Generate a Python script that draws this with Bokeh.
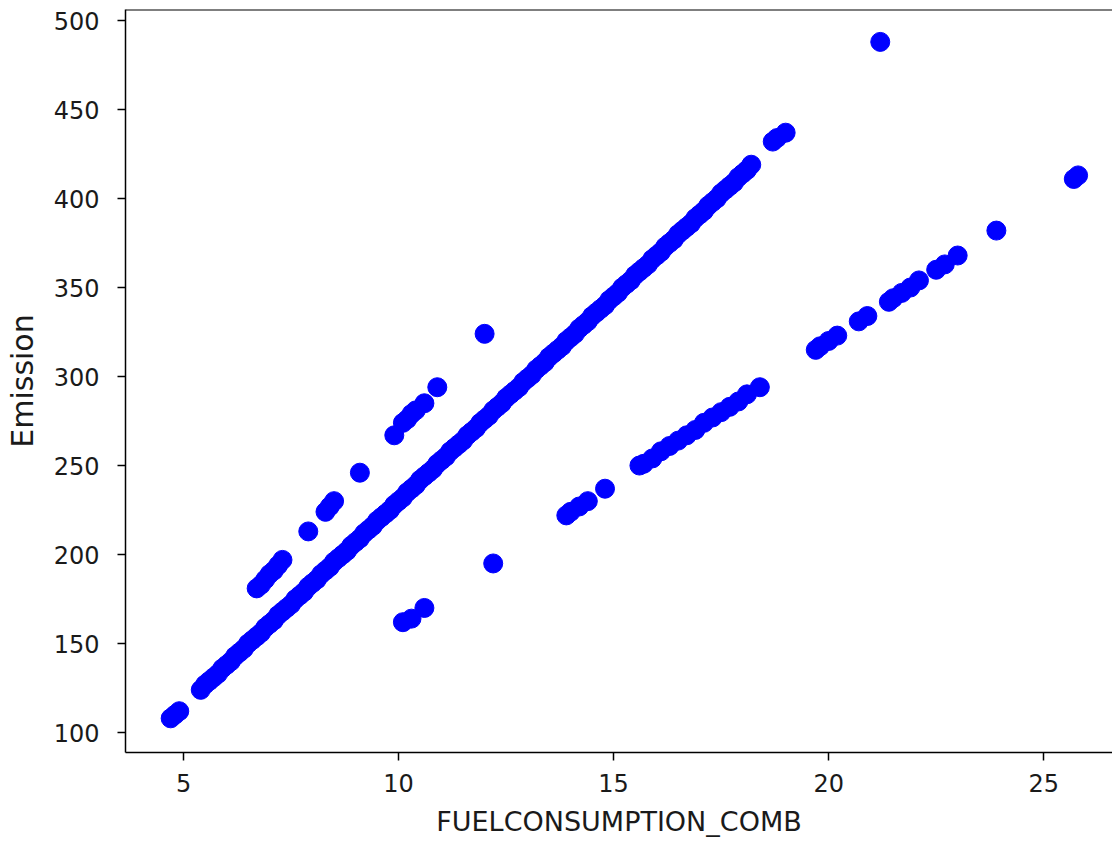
from bokeh.plotting import figure
from bokeh.models import Range1d, Span, FixedTicker
from bokeh.embed import file_html
from bokeh.resources import INLINE

# ---- data ----
fc_gasoline = [4.7, 4.8, 4.9,
               5.4, 5.5, 5.6, 5.7, 5.8, 5.9, 6.0, 6.1, 6.2, 6.3, 6.4, 6.5, 6.6, 6.7, 6.8, 6.9,
               7.0, 7.1, 7.2, 7.3, 7.4, 7.5, 7.6, 7.7, 7.8, 7.9, 8.0, 8.1, 8.2, 8.3, 8.4, 8.5,
               8.6, 8.7, 8.8, 8.9, 9.0, 9.1, 9.2, 9.3, 9.4, 9.5, 9.6, 9.7, 9.8, 9.9, 10.0,
               10.1, 10.2, 10.3, 10.4, 10.5, 10.6, 10.7, 10.8, 10.9, 11.0, 11.1, 11.2, 11.3,
               11.4, 11.5, 11.6, 11.7, 11.8, 11.9, 12.0, 12.1, 12.2, 12.3, 12.4, 12.5, 12.6,
               12.7, 12.8, 12.9, 13.0, 13.1, 13.2, 13.3, 13.4, 13.5, 13.6, 13.7, 13.8, 13.9,
               14.0, 14.1, 14.2, 14.3, 14.4, 14.5, 14.6, 14.7, 14.8, 14.9, 15.0, 15.1, 15.2,
               15.3, 15.4, 15.5, 15.6, 15.7, 15.8, 15.9, 16.0, 16.1, 16.2, 16.3, 16.4, 16.5,
               16.6, 16.7, 16.8, 16.9, 17.0, 17.1, 17.2, 17.3, 17.4, 17.5, 17.6, 17.7, 17.8,
               17.9, 18.0, 18.1, 18.2, 18.7, 18.8, 19.0]
co2_gasoline = [108, 110, 112,
                124, 127, 129, 131, 133, 136, 138, 140, 143, 145, 147, 150, 152, 154, 156, 159,
                161, 163, 166, 168, 170, 172, 175, 177, 179, 182, 184, 186, 189, 191, 193, 196,
                198, 200, 202, 205, 207, 209, 212, 214, 216, 219, 221, 223, 225, 228, 230,
                232, 235, 237, 239, 242, 244, 246, 248, 251, 253, 255, 258, 260,
                262, 264, 267, 269, 271, 274, 276, 278, 281, 283, 285, 288, 290,
                292, 294, 297, 299, 301, 304, 306, 308, 311, 313, 315, 317, 320,
                322, 324, 327, 329, 331, 334, 336, 338, 340, 343, 345, 347, 350,
                352, 354, 357, 359, 361, 363, 366, 368, 370, 373, 375, 377, 380,
                382, 384, 386, 389, 391, 393, 396, 398, 400, 403, 405, 407, 409,
                412, 414, 416, 419, 432, 434, 437]

fc_diesel = [6.7, 6.8, 6.9, 7.0, 7.1, 7.2, 7.3, 7.9, 8.3, 8.4, 8.5, 9.1, 9.9,
             10.1, 10.2, 10.3, 10.4, 10.6, 10.9, 12.0]
co2_diesel = [181, 183, 186, 189, 191, 194, 197, 213, 224, 227, 230, 246, 267,
              274, 276, 279, 281, 285, 294, 324]

fc_ethanol = [10.1, 10.3, 10.6, 12.2, 13.9, 14.0, 14.2, 14.4, 14.8,
              15.6, 15.7, 15.9, 16.1, 16.3, 16.5, 16.7, 16.9, 17.1, 17.3, 17.5, 17.7, 17.9,
              18.1, 18.4, 19.7, 19.8, 20.0, 20.2, 20.7, 20.9, 21.4, 21.5, 21.7, 21.9, 22.1,
              22.5, 22.7, 23.0, 23.9, 25.7, 25.8]
co2_ethanol = [162, 164, 170, 195, 222, 224, 227, 230, 237,
               250, 251, 254, 258, 261, 264, 267, 270, 274, 277, 280, 283, 286,
               290, 294, 315, 317, 320, 323, 331, 334, 342, 344, 347, 350, 354,
               360, 363, 368, 382, 411, 413]

fc_other = [21.2]
co2_other = [488]

x_ticks = [5, 10, 15, 20, 25]
y_ticks = [100, 150, 200, 250, 300, 350, 400, 450, 500]

FONT = "DejaVu Sans"
BLUE = "#0000ff"

p = figure(frame_width=987, frame_height=743,
           x_range=Range1d(3.65, 26.6), y_range=Range1d(88.8, 506.2),
           min_border_left=125, min_border_right=0, min_border_top=9, min_border_bottom=85,
           output_backend="svg", toolbar_location=None)
p.outline_line_color = None
p.grid.visible = False
p.background_fill_color = "white"
p.border_fill_color = "white"

for xs, ys in [(fc_gasoline, co2_gasoline), (fc_diesel, co2_diesel),
               (fc_ethanol, co2_ethanol), (fc_other, co2_other)]:
    p.scatter(xs, ys, size=19, fill_color=BLUE, line_color=BLUE)

p.xaxis.ticker = FixedTicker(ticks=x_ticks)
p.yaxis.ticker = FixedTicker(ticks=y_ticks)
for ax in (p.xaxis, p.yaxis):
    ax.axis_line_width = 1.5
    ax.axis_line_color = "black"
    ax.major_tick_line_width = 1.5
    ax.major_tick_line_color = "black"
    ax.major_tick_out = 8
    ax.major_tick_in = 0
    ax.minor_tick_out = 0
    ax.minor_tick_in = 0
    ax.major_label_text_font = FONT
    ax.major_label_text_font_size = "24px"
    ax.major_label_text_color = "#1a1a1a"
    ax.axis_label_text_font = FONT
    ax.axis_label_text_font_style = "normal"
    ax.axis_label_text_color = "#1a1a1a"

p.xaxis.major_label_standoff = 13
p.yaxis.major_label_standoff = 18
p.xaxis.axis_label = "FUELCONSUMPTION_COMB"
p.yaxis.axis_label = "Emission"
p.xaxis.axis_label_text_font_size = "27px"
p.yaxis.axis_label_text_font_size = "30px"
p.xaxis.axis_label_standoff = 11
p.yaxis.axis_label_standoff = 11

top_spine = Span(location=506.2, dimension="width", line_color="black", line_width=2)
p.add_layout(top_spine)

open("out.html", "w").write(file_html(p, INLINE))
